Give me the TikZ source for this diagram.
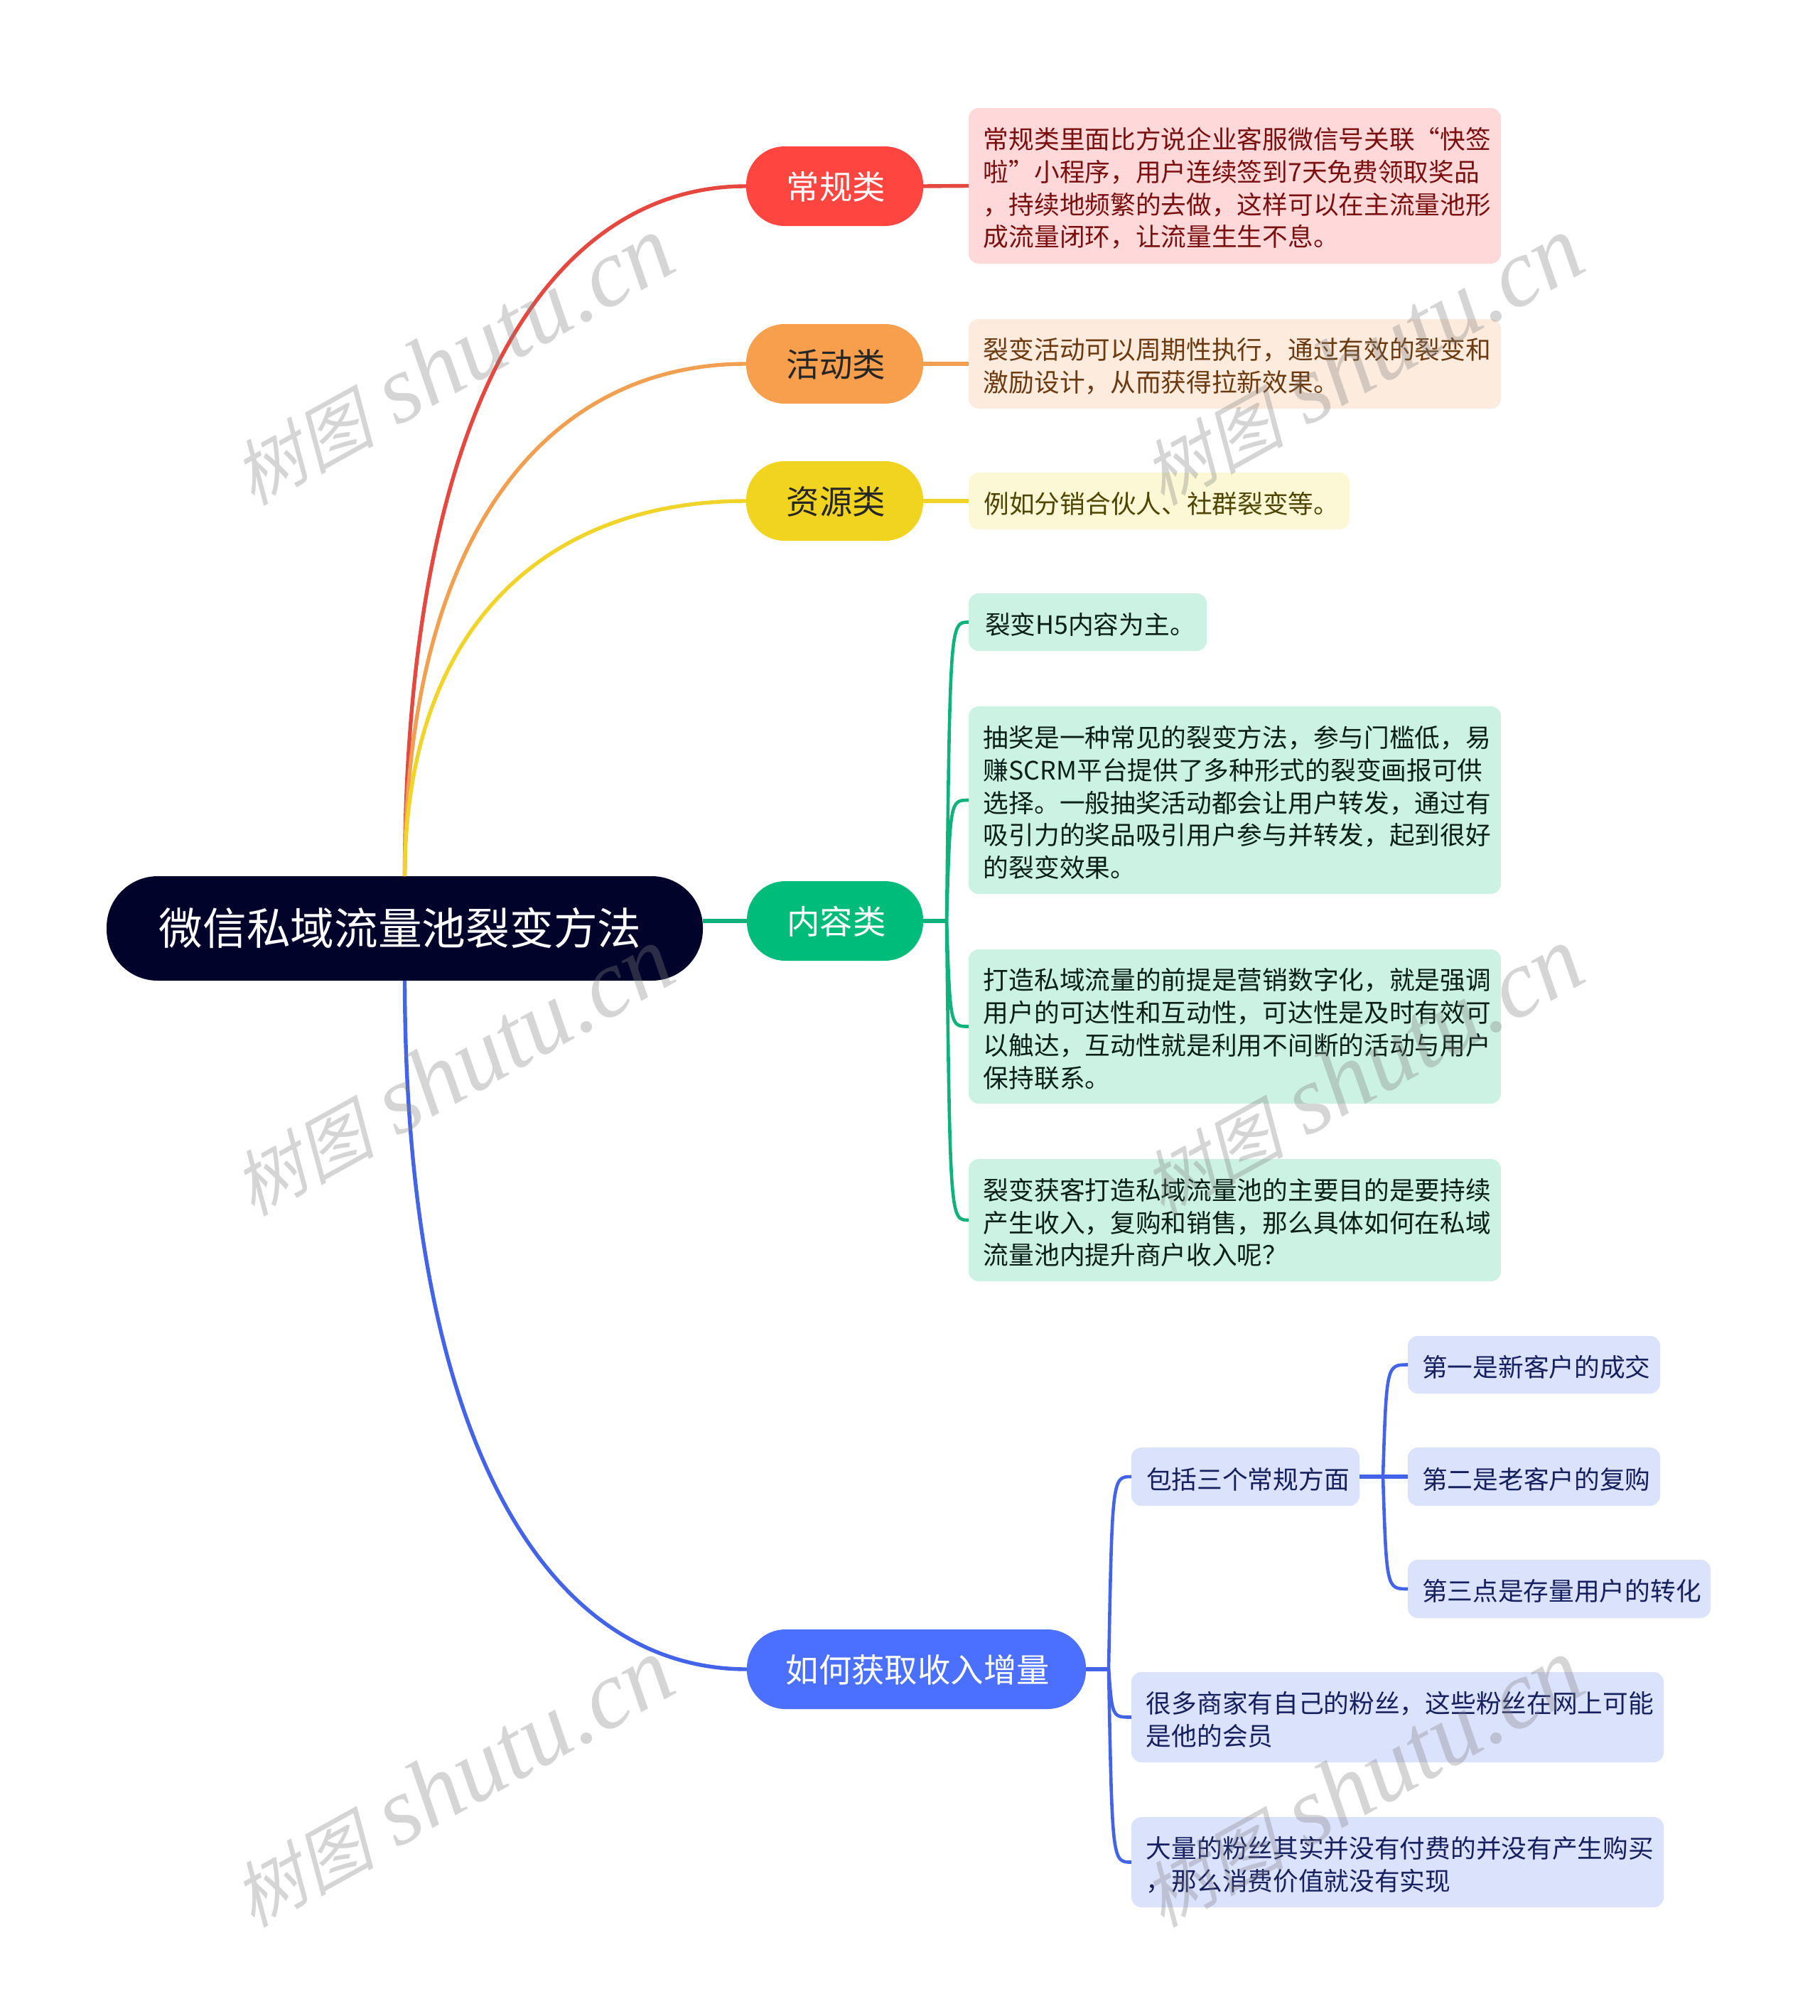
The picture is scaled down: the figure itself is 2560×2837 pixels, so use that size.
\documentclass[tikz,border=0pt]{standalone}
\usepackage{fontspec}
\usetikzlibrary{calc}
\setmainfont{Noto Sans CJK SC}
\newfontfamily\wmcjk[FakeSlant=0.25]{Noto Sans CJK SC}
\newfontfamily\wmlat{Liberation Serif Italic}
\definecolor{cred}{HTML}{FF4540}\definecolor{lred}{HTML}{E4483F}\definecolor{fred}{HTML}{FFD9D9}\definecolor{tred}{HTML}{7A0F0F}
\definecolor{corg}{HTML}{F79F4D}\definecolor{lorg}{HTML}{F0A050}\definecolor{forg}{HTML}{FDEBDD}\definecolor{torg}{HTML}{6B3A10}
\definecolor{cyel}{HTML}{F0D41F}\definecolor{lyel}{HTML}{F0D42A}\definecolor{fyel}{HTML}{FCF8D6}\definecolor{tyel}{HTML}{4D4500}
\definecolor{cgrn}{HTML}{00BC7B}\definecolor{lgrn}{HTML}{0FB27A}\definecolor{fgrn}{HTML}{CCF2E3}\definecolor{tgrn}{HTML}{0A1F17}
\definecolor{cblu}{HTML}{4B70FF}\definecolor{lblu}{HTML}{4363E8}\definecolor{fblu}{HTML}{DBE2FC}\definecolor{tblu}{HTML}{16205E}
\definecolor{croot}{HTML}{02032A}
\tikzset{
 x=0.5pt,y=-0.5pt,
 base/.style={inner sep=0pt,outer sep=0pt},
 rootbox/.style={base,fill=croot,rounded corners=36pt},
 pillbox/.style={base,rounded corners=27pt},
 leafbox/.style={base,rounded corners=7pt},
 roottext/.style={base,align=center,text=white,xshift=-3.2pt,yshift=0.5pt,font=\fontsize{30.85}{36}\selectfont},
 pilltext/.style={base,align=center,xshift=0.9pt,yshift=-0.5pt,font=\fontsize{23.2}{28}\selectfont},
 leaftext/.style={base,align=left,xshift=1.7pt,yshift=-1.7pt,font=\fontsize{17.85}{22.9}\selectfont},
 main/.style={line width=2.7pt},
 sub/.style={line width=2.3pt},
 wm/.style={text=gray,opacity=0.33,rotate=29,inner sep=0pt},
}
\newcommand{\mnode}[7]{%
 \node[#1,minimum width={(#5-#3)*0.5pt},minimum height={(#6-#4)*0.5pt}] (#2) at ({(#3+#5)/2},{(#4+#6)/2}) {};}
\newcommand{\mtext}[3]{\node[#1] (#2t) at (#2.center) {#3};}
\newcommand{\wmark}[3]{\node[wm] (#1) at (#2,#3) {\fontsize{50}{50}\wmcjk 树图\hspace{16pt}\fontsize{68}{68}\wmlat shutu.cn};}
\begin{document}
\begin{tikzpicture}
\useasboundingbox (0,0) rectangle (2560,2837);
% boxes
\mnode{rootbox}{root}{150}{1233}{989}{1380}{}
\mnode{pillbox,fill=cred}{a}{1050}{206}{1299}{318}{}
\mnode{pillbox,fill=corg}{b}{1050}{456}{1299}{568}{}
\mnode{pillbox,fill=cyel}{c}{1050}{649}{1299}{761}{}
\mnode{pillbox,fill=cgrn}{d}{1051}{1240}{1299}{1352}{}
\mnode{pillbox,fill=cblu}{e}{1051}{2293}{1528}{2405}{}
\mnode{leafbox,fill=fred}{a1}{1363}{152}{2112}{371}{}
\mnode{leafbox,fill=forg}{b1}{1363}{449}{2112}{575}{}
\mnode{leafbox,fill=fyel}{c1}{1363}{665}{1899}{745}{}
\mnode{leafbox,fill=fgrn}{d1}{1363}{835}{1698}{916}{}
\mnode{leafbox,fill=fgrn}{d2}{1363}{994}{2112}{1258}{}
\mnode{leafbox,fill=fgrn}{d3}{1363}{1336}{2112}{1553}{}
\mnode{leafbox,fill=fgrn}{d4}{1363}{1631}{2112}{1803}{}
\mnode{leafbox,fill=fblu}{e1}{1592}{2037}{1913}{2119}{}
\mnode{leafbox,fill=fblu}{s1}{1981}{1880}{2336}{1961}{}
\mnode{leafbox,fill=fblu}{s2}{1981}{2037}{2336}{2119}{}
\mnode{leafbox,fill=fblu}{s3}{1981}{2195}{2407}{2277}{}
\mnode{leafbox,fill=fblu}{e2}{1592}{2353}{2341}{2480}{}
\mnode{leafbox,fill=fblu}{e3}{1592}{2557}{2341}{2684}{}
% connectors
\coordinate (dm) at (1332,1296);
\coordinate (em) at (1560,2349);
\coordinate (fm) at (1946,2078);
\draw[main,lblu] (root.south) .. controls (571,2048) and (780,2349) .. (e.west);
\draw[main,lred] (root.north) .. controls (571,560) and (780,262) .. (a.west);
\draw[main,lorg] (root.north) .. controls (571,736) and (780,512) .. (b.west);
\draw[main,lyel] (root.north) .. controls (571,869) and (780,705) .. (c.west);
\draw[main,lgrn] (root.east |- d.west) -- (d.west);
\draw[main,lred] (a.east) -- (a1.west);
\draw[main,lorg] (b.east) -- (b1.west);
\draw[main,lyel] (c.east) -- (c1.west);
\draw[main,lgrn] (d.east) -- (dm);
\foreach \t in {d1,d2,d3,d4}
  \draw[sub,lgrn] (dm) .. controls ($(dm |- \t.west)+(5,0)$) and ($(dm |- \t.west)+(5,0)$) .. (\t.west);
\draw[main,lblu] (e.east) -- (em);
\foreach \t in {e1,e2,e3}
  \draw[sub,lblu] (em) .. controls ($(em |- \t.west)+(5,0)$) and ($(em |- \t.west)+(5,0)$) .. (\t.west);
\draw[main,lblu] (e1.east) -- (fm -| s2.west);
\foreach \t in {s1,s3}
  \draw[sub,lblu] (fm) .. controls ($(fm |- \t.west)+(5,0)$) and ($(fm |- \t.west)+(5,0)$) .. (\t.west);
% texts
\mtext{roottext}{root}{微信私域流量池裂变方法}
\mtext{pilltext,text=white}{a}{常规类}
\mtext{pilltext,text=black!85}{b}{活动类}
\mtext{pilltext,text=black!85}{c}{资源类}
\mtext{pilltext,text=white}{d}{内容类}
\mtext{pilltext,text=white}{e}{如何获取收入增量}
\mtext{leaftext,text=tred}{a1}{常规类里面比方说企业客服微信号关联“快签\\啦”小程序，用户连续签到7天免费领取奖品\\，持续地频繁的去做，这样可以在主流量池形\\成流量闭环，让流量生生不息。}
\mtext{leaftext,text=torg}{b1}{裂变活动可以周期性执行，通过有效的裂变和\\激励设计，从而获得拉新效果。}
\mtext{leaftext,text=tyel}{c1}{例如分销合伙人、社群裂变等。}
\mtext{leaftext,text=tgrn}{d1}{裂变H5内容为主。}
\mtext{leaftext,text=tgrn}{d2}{抽奖是一种常见的裂变方法，参与门槛低，易\\赚SCRM平台提供了多种形式的裂变画报可供\\选择。一般抽奖活动都会让用户转发，通过有\\吸引力的奖品吸引用户参与并转发，起到很好\\的裂变效果。}
\mtext{leaftext,text=tgrn}{d3}{打造私域流量的前提是营销数字化，就是强调\\用户的可达性和互动性，可达性是及时有效可\\以触达，互动性就是利用不间断的活动与用户\\保持联系。}
\mtext{leaftext,text=tgrn}{d4}{裂变获客打造私域流量池的主要目的是要持续\\产生收入，复购和销售，那么具体如何在私域\\流量池内提升商户收入呢？}
\mtext{leaftext,text=tblu}{e1}{包括三个常规方面}
\mtext{leaftext,text=tblu}{s1}{第一是新客户的成交}
\mtext{leaftext,text=tblu}{s2}{第二是老客户的复购}
\mtext{leaftext,text=tblu}{s3}{第三点是存量用户的转化}
\mtext{leaftext,text=tblu}{e2}{很多商家有自己的粉丝，这些粉丝在网上可能\\是他的会员}
\mtext{leaftext,text=tblu}{e3}{大量的粉丝其实并没有付费的并没有产生购买\\，那么消费价值就没有实现}
% watermarks
\wmark{w1}{636}{508}
\wmark{w2}{1916}{508}
\wmark{w3}{636}{1508}
\wmark{w4}{1916}{1508}
\wmark{w5}{636}{2509}
\wmark{w6}{1916}{2509}
\end{tikzpicture}
\end{document}
